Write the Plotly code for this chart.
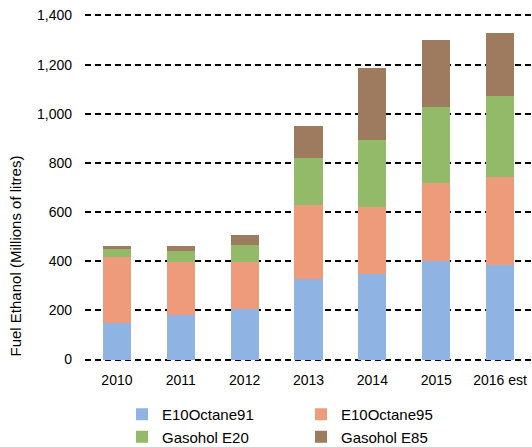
import plotly.graph_objects as go

years = ["2010", "2011", "2012", "2013", "2014", "2015", "2016 est"]
e10_octane91 = [147, 182, 205, 327, 348, 399, 384]
e10_octane95 = [272, 216, 193, 301, 272, 321, 358]
gasohol_e20 = [29, 43, 70, 194, 273, 308, 330]
gasohol_e85 = [14, 20, 37, 128, 294, 273, 258]

series = [
    ("E10Octane91", e10_octane91, "#8FB3E3"),
    ("E10Octane95", e10_octane95, "#EE9B7B"),
    ("Gasohol E20", gasohol_e20, "#93BA68"),
    ("Gasohol E85", gasohol_e85, "#9C7B5F"),
]

FONT = "Liberation Sans, Arial, sans-serif"

fig = go.Figure()
for name, vals, color in series:
    fig.add_trace(go.Bar(
        x=years, y=vals, name=name,
        marker=dict(color=color, line=dict(width=0)),
    ))

fig.update_layout(
    width=532, height=447,
    margin=dict(l=85, r=0, t=14, b=86, autoexpand=False),
    barmode="stack",
    bargap=0.56,
    plot_bgcolor="white",
    paper_bgcolor="white",
    font=dict(family=FONT, size=14, color="#000000"),
    showlegend=True,
    legend=dict(
        orientation="h",
        traceorder="normal",
        x=(122 - 85) / 447, xanchor="left",
        y=(361 - 398) / 347, yanchor="top",
        entrywidth=134, entrywidthmode="pixels",
        font=dict(family=FONT, size=15, color="#000000"),
        itemwidth=30,
        tracegroupgap=0,
        bgcolor="rgba(0,0,0,0)",
    ),
    xaxis=dict(
        range=[-0.5, 6.5],
        showgrid=False, showline=False, zeroline=False,
        ticks="", ticklabelstandoff=9,
        tickfont=dict(family=FONT, size=14),
    ),
    yaxis=dict(
        range=[-6, 1406],
        tickvals=[0, 200, 400, 600, 800, 1000, 1200, 1400],
        tickformat=",d",
        showgrid=True, gridcolor="#000000", gridwidth=1.6, griddash="6px,4px",
        zeroline=False, showline=False,
        ticks="", ticklabelstandoff=12,
        tickfont=dict(family=FONT, size=14),
    ),
    annotations=[dict(
        text="Fuel Ethanol (Millions of litres)",
        xref="paper", yref="paper",
        x=(15 - 85) / 447, y=(361 - 256.5) / 347,
        xanchor="center", yanchor="middle",
        textangle=-90, showarrow=False,
        font=dict(family=FONT, size=15, color="#000000"),
    )],
)

fig.write_html("out.html")
